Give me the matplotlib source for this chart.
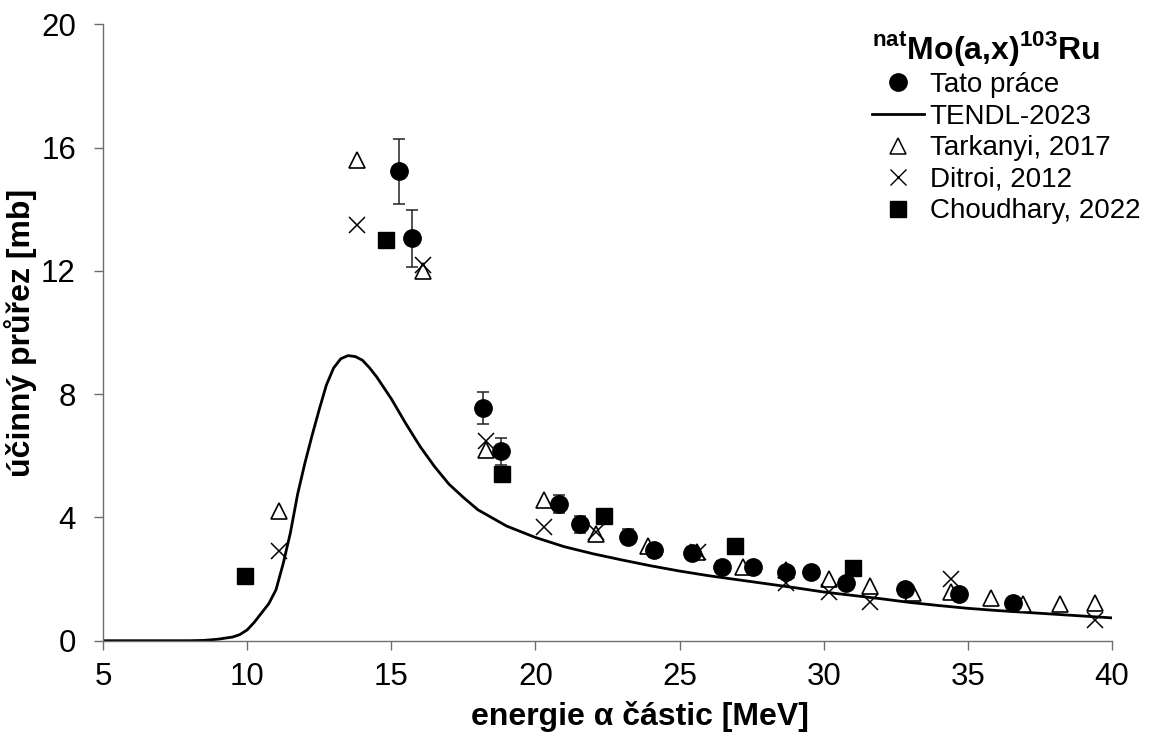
import matplotlib
matplotlib.use("Agg")
import matplotlib.pyplot as plt
from matplotlib.lines import Line2D

plt.rcParams['font.family'] = ['Liberation Sans', 'DejaVu Sans']
plt.rcParams['mathtext.fontset'] = 'custom'
plt.rcParams['mathtext.rm'] = 'Liberation Sans'
plt.rcParams['mathtext.bf'] = 'Liberation Sans:bold'

# --- data -------------------------------------------------------------
# This work (with uncertainties)
tato_e = [15.27, 15.71, 18.19, 18.80, 20.81, 21.56, 23.21, 24.13, 25.43,
          26.48, 27.55, 28.70, 29.55, 30.79, 32.81, 34.70, 36.57]
tato_xs = [15.23, 13.06, 7.56, 6.14, 4.43, 3.78, 3.38, 2.94, 2.84,
           2.40, 2.38, 2.22, 2.22, 1.88, 1.67, 1.52, 1.21]
tato_err = [1.06, 0.92, 0.52, 0.43, 0.30, 0.27, 0.24, 0.21, 0.20,
            0.17, 0.17, 0.16, 0.16, 0.13, 0.12, 0.11, 0.08]

# TENDL-2023 excitation function
tendl_e = [5, 6, 7, 8, 8.5, 9, 9.5, 9.75, 10, 10.25, 10.5, 10.75, 11, 11.25,
           11.5, 11.75, 12, 12.25, 12.5, 12.75, 13, 13.25, 13.5, 13.75, 14,
           14.25, 14.5, 15, 15.5, 16, 16.5, 17, 17.5, 18, 19, 20, 21, 22, 23,
           24, 25, 26, 27, 28, 29, 30, 31, 32, 33, 34, 35, 36, 37, 38, 39, 40]
tendl_xs = [0, 0, 0, 0, 0.01, 0.05, 0.12, 0.2, 0.35, 0.6, 0.9, 1.2, 1.65, 2.5,
            3.5, 4.75, 5.75, 6.65, 7.5, 8.3, 8.85, 9.15, 9.25, 9.22, 9.1,
            8.85, 8.55, 7.85, 7.05, 6.3, 5.65, 5.08, 4.65, 4.25, 3.72, 3.35,
            3.05, 2.82, 2.62, 2.43, 2.26, 2.11, 1.98, 1.85, 1.72, 1.58, 1.47,
            1.36, 1.24, 1.14, 1.05, 0.98, 0.92, 0.86, 0.80, 0.74]

# Tarkanyi, 2017
tark_e = [11.1, 13.8, 16.1, 18.3, 20.3, 22.1, 23.9, 25.6, 27.2, 28.7, 30.2,
          31.6, 33.1, 34.4, 35.8, 36.9, 38.2, 39.4]
tark_xs = [4.2, 15.6, 12.0, 6.2, 4.57, 3.47, 3.08, 2.87, 2.40, 2.29, 1.99,
           1.78, 1.56, 1.59, 1.38, 1.18, 1.18, 1.21]

# Ditroi, 2012
dit_e = [11.1, 13.8, 16.1, 18.3, 20.3, 22.1, 25.65, 28.7, 30.2, 31.6, 34.4, 39.4]
dit_xs = [2.92, 13.5, 12.2, 6.49, 3.70, 3.54, 2.89, 1.86, 1.59, 1.27, 1.99, 0.67]

# Choudhary, 2022
chou_e = [9.93, 14.82, 18.83, 22.37, 26.93, 31.02]
chou_xs = [2.10, 12.99, 5.40, 4.06, 3.07, 2.37]

x_ticks = [5, 10, 15, 20, 25, 30, 35, 40]
y_ticks = [0, 4, 8, 12, 16, 20]

# --- figure -------------------------------------------------------------
W, H = 1149, 740
fig = plt.figure(figsize=(W / 100, H / 100), dpi=100)
ax = fig.add_axes([103 / W, 1 - 640.7 / H, 1009 / W, 616.4 / H])

ax.plot(tendl_e, tendl_xs, color='black', lw=2.0, solid_capstyle='round',
        zorder=2, label='TENDL-2023')
ax.plot(tark_e, tark_xs, ls='none', marker='^', ms=12, mfc='white',
        mec='black', mew=1.2, zorder=3, label='Tarkanyi, 2017')
ax.plot(dit_e, dit_xs, ls='none', marker='x', ms=12, mec='black',
        mew=1.1, zorder=4, label='Ditroi, 2012')
ax.plot(chou_e, chou_xs, ls='none', marker='s', ms=12, mfc='black',
        mec='black', zorder=4, label='Choudhary, 2022')
ax.errorbar(tato_e, tato_xs, yerr=tato_err, fmt='o', ms=12.5, mfc='black',
            mec='black', ecolor='#222222', elinewidth=1.1, capsize=4.5,
            capthick=1.1, zorder=5, label='Tato práce')

ax.set_xlim(5, 40)
ax.set_ylim(0, 20)
ax.set_xticks(x_ticks)
ax.set_yticks(y_ticks)

for side in ('top', 'right'):
    ax.spines[side].set_visible(False)
for side in ('left', 'bottom'):
    ax.spines[side].set_color('#6e6e6e')
    ax.spines[side].set_linewidth(1.0)

ax.tick_params(axis='both', direction='out', length=6.5, width=1.0,
               color='#6e6e6e', labelsize=22.5, labelcolor='black')
ax.tick_params(axis='y', pad=13)
ax.tick_params(axis='x', pad=9)

ax.set_xlabel('energie α částic [MeV]', fontsize=23, fontweight='bold')
ax.set_ylabel('účinný průřez [mb]', fontsize=23, fontweight='bold')
ax.xaxis.set_label_coords((640 - 103) / 1009, (640.7 - 701) / 616.4)
ax.yaxis.set_label_coords((37 - 103) / 1009, 0.5)

handles = [
    Line2D([], [], ls='none', marker='o', ms=12.5, mfc='black', mec='black'),
    Line2D([], [], color='black', lw=2.0),
    Line2D([], [], ls='none', marker='^', ms=11, mfc='white', mec='black',
           mew=1.1),
    Line2D([], [], ls='none', marker='x', ms=11, mec='black', mew=1.0),
    Line2D([], [], ls='none', marker='s', ms=12, mfc='black', mec='black'),
]
labels = ['Tato práce', 'TENDL-2023', 'Tarkanyi, 2017', 'Ditroi, 2012',
          'Choudhary, 2022']
leg = ax.legend(handles, labels, loc='upper left',
                bbox_to_anchor=(872 / W, 1 - 29 / H),
                bbox_transform=fig.transFigure, frameon=False, fontsize=20,
                handlelength=1.87, handletextpad=0.2, labelspacing=0.2,
                borderpad=0.0, borderaxespad=0.0, alignment='left',
                title=r'$^{\mathbf{nat}}$Mo(a,x)$^{\mathbf{103}}$Ru',
                title_fontproperties={'weight': 'bold', 'size': 23})
leg._legend_box.sep = 3

fig.savefig('out.png', dpi=100)
